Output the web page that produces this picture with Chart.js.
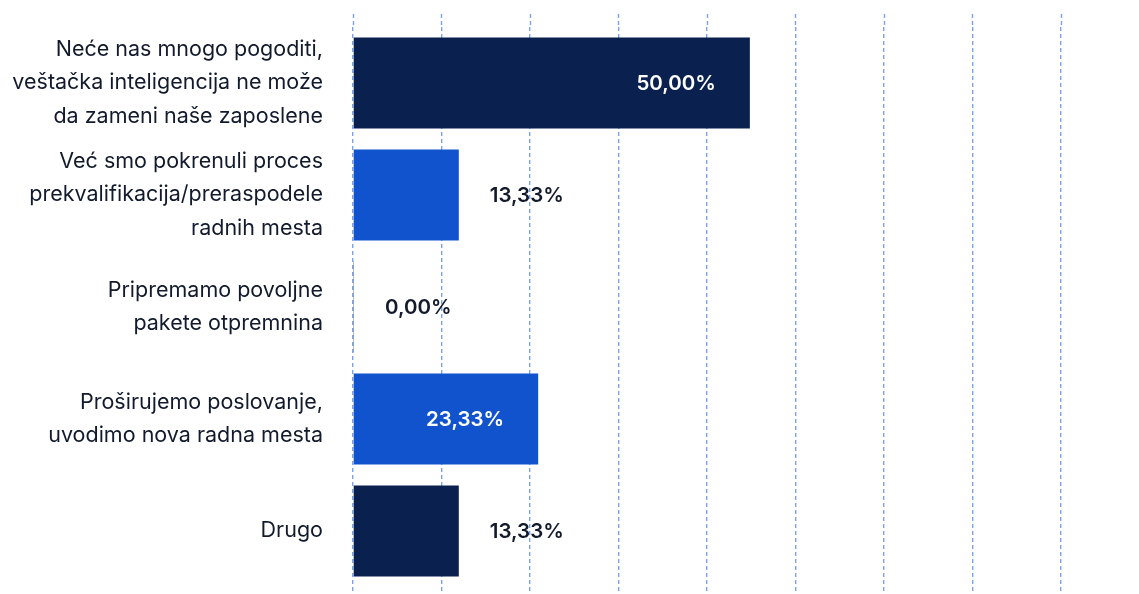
<!DOCTYPE html>
<html lang="sr">
<head>
  <meta charset="UTF-8">
  <title>Uticaj veštačke inteligencije</title>
  <script src="https://cdn.jsdelivr.net/npm/chart.js"></script>
  <style>
    html, body {
      margin: 0;
      padding: 0;
      background: #ffffff;
    }
    .wrap {
      position: relative;
      width: 1139px;
      height: 594px;
    }
  </style>
</head>
<body>
  <div class="wrap">
    <canvas id="chart"></canvas>
  </div>

  <script>
    // data
    const categories = [
      ["Neće nas mnogo pogoditi,", "veštačka inteligencija ne može", "da zameni naše zaposlene"],
      ["Već smo pokrenuli proces", "prekvalifikacija/preraspodele", "radnih mesta"],
      ["Pripremamo povoljne", "pakete otpremnina"],
      ["Proširujemo poslovanje,", "uvodimo nova radna mesta"],
      ["Drugo"]
    ];
    const values = [50.00, 13.33, 0.00, 23.33, 13.33];
    const barColors = ["#0a2150", "#1153cd", "#0a2150", "#1153cd", "#0a2150"];
    const axisMax = 89.2;

    const NAVY_TEXT = "#121a2c";
    const GRID = "#7da2ec";

    // value labels: inside the bar (white) for long bars, outside (dark) for short ones
    const valueLabels = {
      id: "valueLabels",
      afterDatasetsDraw(chart) {
        const ctx = chart.ctx;
        const meta = chart.getDatasetMeta(0);
        ctx.save();
        ctx.font = "600 20.5px Inter, 'Noto Sans', sans-serif";
        ctx.textBaseline = "middle";
        meta.data.forEach((bar, i) => {
          const v = values[i];
          const txt = v.toFixed(2).replace(".", ",") + "%";
          const zero = chart.scales.x.getPixelForValue(0);
          if (v > 20) {
            ctx.fillStyle = "#ffffff";
            ctx.textAlign = "right";
            ctx.fillText(txt, bar.x - 34, bar.y + 1);
          } else {
            ctx.fillStyle = NAVY_TEXT;
            ctx.textAlign = "left";
            ctx.fillText(txt, Math.max(bar.x, zero) + 31, bar.y + 1);
          }
        });
        ctx.restore();
      }
    };

    new Chart(document.getElementById("chart"), {
      type: "bar",
      data: {
        labels: categories,
        datasets: [{
          data: values,
          backgroundColor: barColors,
          borderWidth: 0,
          barPercentage: 0.9,
          categoryPercentage: 0.903,
          minBarLength: 1
        }]
      },
      options: {
        indexAxis: "y",
        responsive: true,
        maintainAspectRatio: false,
        animation: false,
        layout: {
          padding: { top: 14, right: 78, bottom: 0, left: 0 }
        },
        plugins: {
          legend: { display: false },
          tooltip: { enabled: false }
        },
        scales: {
          x: {
            position: "bottom",
            min: 0,
            max: axisMax,
            ticks: { display: false, count: 9 },
            border: { display: false, dash: [4, 3] },
            grid: {
              color: GRID,
              lineWidth: 1.4,
              drawTicks: true,
              tickLength: 7,
              tickColor: GRID,
              tickWidth: 1.4,
              tickBorderDash: [4, 3]
            }
          },
          x2: {
            position: "top",
            axis: "x",
            min: 0,
            max: axisMax,
            ticks: { display: false, count: 9 },
            border: { display: false },
            grid: {
              drawOnChartArea: false,
              drawTicks: true,
              tickLength: 13,
              tickColor: GRID,
              tickWidth: 1.4,
              tickBorderDash: [4, 3]
            }
          },
          y: {
            border: { display: false },
            grid: { display: false, drawTicks: false },
            afterFit(scale) {
              scale.width = 353;
              scale.paddingTop = 0;
              scale.paddingBottom = 0;
            },
            ticks: {
              padding: 30,
              color: NAVY_TEXT,
              font: {
                family: "Inter, 'Noto Sans', sans-serif",
                size: 21.5,
                lineHeight: 1.54
              }
            }
          }
        }
      },
      plugins: [valueLabels]
    });
  </script>
</body>
</html>
